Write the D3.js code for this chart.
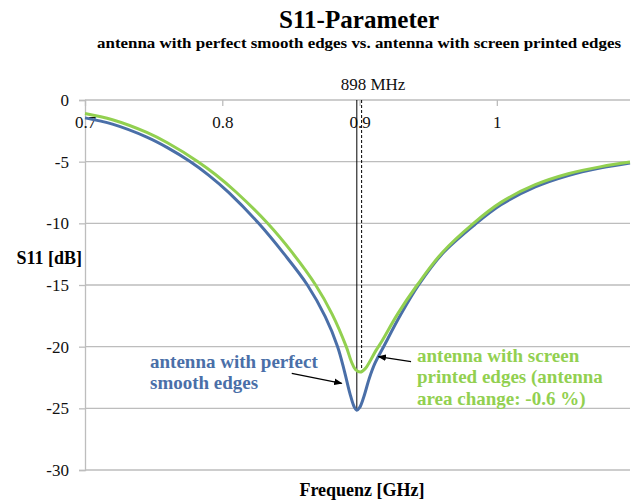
<!DOCTYPE html>
<html>
<head>
<meta charset="utf-8">
<script src="https://cdn.jsdelivr.net/npm/d3@7"></script>
<style>
  body { margin: 0; background: #fff; }
  svg text { font-family: "Liberation Serif", "Times New Roman", serif; }
</style>
</head>
<body>
<div id="chart"></div>
<script>
// S11 curves
const blueFreq = [0.700,0.720,0.745,0.760,0.776,0.790,0.805,0.8265,0.845,0.862,0.875,0.884,0.889,0.893,0.896,0.898,0.900,0.903,0.907,0.911,0.918,0.930,0.943,0.960,0.984,1.003,1.028,1.052,1.076,1.097];
const blueS11  = [-1.45,-1.96,-3.01,-3.86,-4.95,-6.09,-7.53,-10.0,-12.48,-15.0,-17.57,-20.0,-22.0,-23.8,-24.85,-25.15,-24.95,-24.1,-22.6,-21.4,-19.9,-17.4,-15.0,-12.5,-10.1,-8.5,-7.05,-6.12,-5.5,-5.1];

const greenFreq = [0.700,0.720,0.745,0.760,0.7823,0.795,0.810,0.833,0.851,0.868,0.880,0.8903,0.894,0.897,0.9005,0.904,0.908,0.912,0.916,0.928,0.942,0.960,0.983,1.003,1.028,1.052,1.076,1.097];
const greenS11  = [-1.10,-1.60,-2.63,-3.47,-5.0,-6.04,-7.46,-10.0,-12.38,-15.0,-17.36,-20.0,-21.2,-21.85,-22.06,-21.8,-21.1,-20.3,-19.6,-17.3,-15.0,-12.4,-10.0,-8.3,-6.87,-5.98,-5.4,-5.03];

const xTicks = [0.7, 0.8, 0.9, 1.0];
const xTickLabels = ["0.7", "0.8", "0.9", "1"];
const yTicks = [0, -5, -10, -15, -20, -25, -30];

const markerFreq = 0.898;   // resonance of smooth antenna
const markerMin = -25.15;
const printedFreq = 0.9015;
const printedMin = -22.06;

const width = 635, height = 500;
const plotLeft = 85, plotRight = 630, plotTop = 100, plotBottom = 470;

const svg = d3.select("#chart").append("svg")
    .attr("width", width)
    .attr("height", height);

const x = d3.scaleLinear().domain([0.7, 1.097]).range([plotLeft, plotRight]);
const y = d3.scaleLinear().domain([-30, 0]).range([plotBottom, plotTop]);

// horizontal grid
svg.append("g")
   .selectAll("line")
   .data(yTicks)
   .enter()
   .append("line")
   .attr("x1", plotLeft)
   .attr("x2", plotRight)
   .attr("y1", d => y(d))
   .attr("y2", d => y(d))
   .attr("stroke", "#bdbdbd")
   .attr("stroke-width", 1.3);

// y axis
const yAxis = d3.axisLeft(y).tickValues(yTicks).tickSize(6).tickPadding(10).tickFormat(d => d);
const gy = svg.append("g")
   .attr("transform", `translate(${plotLeft},0)`)
   .call(yAxis);
gy.select(".domain").attr("stroke", "#bdbdbd").attr("stroke-width", 1.3);
gy.selectAll(".tick line").attr("stroke", "#bdbdbd").attr("stroke-width", 1.3);
gy.selectAll("text").attr("font-size", 17).attr("fill", "#111")
   .style("font-family", "'Liberation Serif', serif");

// x axis along 0 dB
const xAxis = d3.axisBottom(x).tickValues(xTicks).tickSize(6).tickPadding(10)
   .tickFormat((d, i) => xTickLabels[i]);
const gx = svg.append("g")
   .attr("transform", `translate(0,${y(0)})`)
   .call(xAxis);
gx.select(".domain").remove();
gx.selectAll(".tick line").attr("stroke", "#bdbdbd").attr("stroke-width", 1.3);
gx.selectAll("text").attr("font-size", 17).attr("fill", "#111")
   .style("font-family", "'Liberation Serif', serif");

// marker lines
svg.append("line")
   .attr("x1", x(markerFreq)).attr("x2", x(markerFreq))
   .attr("y1", y(0)).attr("y2", y(markerMin))
   .attr("stroke", "#000").attr("stroke-width", 1);
svg.append("line")
   .attr("x1", x(printedFreq)).attr("x2", x(printedFreq))
   .attr("y1", y(0)).attr("y2", y(printedMin))
   .attr("stroke", "#000").attr("stroke-width", 1)
   .attr("stroke-dasharray", "3,2");

// curves
const line = d3.line()
   .x(d => x(d[0]))
   .y(d => y(d[1]))
   .curve(d3.curveCatmullRom.alpha(0.5));

svg.append("path")
   .datum(blueFreq.map((f, i) => [f, blueS11[i]]))
   .attr("d", line)
   .attr("fill", "none")
   .attr("stroke", "#4a6fa8")
   .attr("stroke-width", 3);

svg.append("path")
   .datum(greenFreq.map((f, i) => [f, greenS11[i]]))
   .attr("d", line)
   .attr("fill", "none")
   .attr("stroke", "#92d050")
   .attr("stroke-width", 3);

// arrows
svg.append("defs").append("marker")
   .attr("id", "arrow")
   .attr("viewBox", "0 0 10 10")
   .attr("refX", 9).attr("refY", 5)
   .attr("markerWidth", 7).attr("markerHeight", 7)
   .attr("orient", "auto")
   .append("path")
   .attr("d", "M0,1 L10,5 L0,9 Z")
   .attr("fill", "#000");

const arrows = [
  {from: [0.8506, -22.16], to: [0.8870, -22.97]},
  {from: [0.9375, -21.21], to: [0.9137, -20.81]}
];
svg.selectAll(".arrow")
   .data(arrows)
   .enter()
   .append("line")
   .attr("class", "arrow")
   .attr("x1", d => x(d.from[0])).attr("y1", d => y(d.from[1]))
   .attr("x2", d => x(d.to[0])).attr("y2", d => y(d.to[1]))
   .attr("stroke", "#000").attr("stroke-width", 1.2)
   .attr("marker-end", "url(#arrow)");

// annotations
const blueNote = ["antenna with perfect", "smooth edges"];
const greenNote = ["antenna with screen", "printed edges (antenna", "area change: -0.6 %)"];

svg.append("text")
   .attr("x", 150).attr("y", 367.5)
   .attr("font-size", 19).attr("font-weight", "bold").attr("fill", "#4a6fa8")
   .selectAll("tspan")
   .data(blueNote)
   .enter()
   .append("tspan")
   .attr("x", 150)
   .attr("dy", (d, i) => i === 0 ? 0 : 21.5)
   .text(d => d);

svg.append("text")
   .attr("x", 417).attr("y", 361.5)
   .attr("font-size", 19).attr("font-weight", "bold").attr("fill", "#92d050")
   .selectAll("tspan")
   .data(greenNote)
   .enter()
   .append("tspan")
   .attr("x", 417)
   .attr("dy", (d, i) => i === 0 ? 0 : 21.5)
   .text(d => d);

svg.append("text")
   .attr("x", 373).attr("y", 90)
   .attr("text-anchor", "middle")
   .attr("font-size", 17)
   .attr("fill", "#111")
   .text("898 MHz");

// titles
svg.append("text")
   .attr("x", 359).attr("y", 28)
   .attr("text-anchor", "middle")
   .attr("font-size", 26).attr("font-weight", "bold")
   .attr("textLength", 160).attr("lengthAdjust", "spacingAndGlyphs")
   .text("S11-Parameter");

svg.append("text")
   .attr("x", 359).attr("y", 48)
   .attr("text-anchor", "middle")
   .attr("font-size", 15).attr("font-weight", "bold")
   .attr("textLength", 524).attr("lengthAdjust", "spacingAndGlyphs")
   .text("antenna with perfect smooth edges vs. antenna with screen printed edges");

svg.append("text")
   .attr("x", 82).attr("y", 264)
   .attr("text-anchor", "end")
   .attr("font-size", 18).attr("font-weight", "bold")
   .text("S11 [dB]");

svg.append("text")
   .attr("x", 362).attr("y", 496)
   .attr("text-anchor", "middle")
   .attr("font-size", 18).attr("font-weight", "bold")
   .text("Frequenz [GHz]");
</script>
</body>
</html>
